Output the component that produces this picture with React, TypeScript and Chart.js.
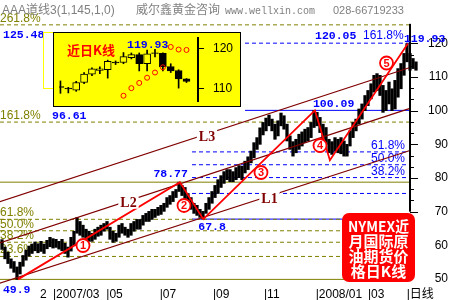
import React, { useEffect, useRef } from "react";
import { Chart, registerables } from "chart.js";

Chart.register(...registerables);

const SANS = '"Liberation Sans", "Noto Sans CJK SC", sans-serif';
const MONO = '"Liberation Mono", "DejaVu Sans Mono", monospace';
const SERIF = '"Liberation Serif", serif';
const CJK = '"Noto Sans CJK SC", "Liberation Sans", sans-serif';

const OLIVE = "#808000";
const BLUE = "#0000FF";
const MAROON = "#800000";
const RED = "#FF0000";
const GREY = "#808080";

// Daily high / low band of NYMEX front-month crude, one entry per sample
const barHigh = [
  61.7, 59.5, 58.0, 56.0, 55.2, 53.6, 55.0, 57.0, 58.6, 59.8,
  60.4, 61.0, 60.5, 61.2, 60.4, 61.5, 62.4, 62.0, 61.8, 61.2,
  61.8, 60.6, 59.5, 62.4, 64.2, 68.3, 67.1, 66.0, 64.8, 64.2,
  63.6, 64.8, 65.4, 66.0, 66.5, 67.1, 65.4, 64.2, 63.6, 66.0,
  66.5, 65.4, 64.8, 66.5, 67.1, 67.7, 67.7, 68.9, 69.5, 70.1,
  70.7, 70.7, 71.3, 71.9, 72.5, 74.2, 74.8, 76.0, 76.6, 78.77,
  77.8, 77.2, 75.4, 74.2, 72.5, 71.9, 70.7, 70.1, 72.5, 74.2,
  76.0, 77.8, 79.5, 80.7, 81.9, 82.5, 82.5, 81.9, 83.1, 83.7,
  83.5, 85.0, 86.3, 88.0, 90.5, 92.0, 94.9, 96.5, 97.8, 98.7,
  97.5, 96.0, 97.0, 99.3, 98.5, 96.0, 92.5, 90.8, 91.5, 93.0,
  93.7, 94.5, 95.0, 96.5, 100.09, 99.5, 98.0, 96.0, 95.0, 91.5,
  90.8, 92.0, 91.5, 92.0, 91.0, 90.0, 94.0, 96.5, 97.5, 100.5,
  102.0, 104.5, 106.0, 108.0, 110.5, 111.0, 110.5, 107.5, 106.0, 108.5,
  106.5, 109.0, 112.5, 114.0, 117.0, 119.93, 117.0, 115.5, 114.5,
];
const barLow = [
  58.8, 56.0, 54.6, 53.2, 52.0, 49.9, 51.5, 53.8, 55.6, 56.8,
  57.6, 58.4, 57.8, 58.2, 57.6, 59.0, 59.6, 59.2, 59.4, 58.9,
  58.4, 57.6, 56.5, 58.3, 60.0, 63.6, 63.0, 62.4, 61.8, 61.2,
  61.2, 61.8, 62.7, 63.0, 64.2, 64.8, 61.8, 60.9, 61.2, 62.4,
  63.6, 63.0, 62.4, 63.0, 64.2, 64.8, 64.8, 66.0, 67.1, 67.1,
  67.7, 68.3, 68.9, 69.2, 70.1, 71.3, 72.2, 73.0, 74.2, 76.0,
  74.8, 73.6, 71.9, 70.7, 69.5, 68.9, 68.3, 67.8, 69.5, 70.7,
  72.5, 74.2, 75.4, 77.2, 78.4, 79.5, 78.9, 78.9, 79.5, 80.1,
  79.5, 81.5, 82.5, 84.5, 86.0, 88.5, 90.0, 92.8, 94.0, 95.5,
  94.0, 91.5, 92.5, 95.5, 94.5, 91.0, 88.5, 86.5, 87.5, 88.5,
  89.5, 90.5, 91.0, 92.0, 95.0, 95.5, 93.5, 91.5, 90.0, 87.5,
  87.0, 88.0, 87.5, 87.2, 86.5, 86.5, 89.5, 92.0, 94.0, 96.0,
  97.5, 100.0, 101.5, 103.5, 105.5, 106.0, 104.5, 99.5, 100.0, 102.0,
  100.0, 100.5, 104.0, 106.5, 110.5, 114.5, 112.0, 112.5, 112.0,
];

// Wave turning points (sample index, price)
const waveX = [5.3, 59.3, 67.1, 104.3, 109.3, 135.3];
const waveY = [49.9, 78.77, 67.8, 100.09, 85.3, 119.93];

// Wave number badges
const badgeText = ["1", "2", "3", "4", "5"];
const badgeX = [27, 60.67, 86.33, 106, 128.17];
const badgeY = [59.96, 71.84, 81.64, 89.66, 114.15];

// Fibonacci grids: A on the first leg, B on the third leg
const fibARatios = [0, 0.236, 0.382, 0.5, 0.618, 1, 1.618, 2.618];
const fibALabelled = [0.236, 0.382, 0.5, 0.618, 1.618, 2.618];
const fibBRatios = [0, 0.236, 0.382, 0.5, 0.618, 1, 1.618];
const fibBLabelled = [0.382, 0.5, 0.618];

// Parallel trend channel
const channelNames = ["L1", "L2", "L3"];
const channelX = [-1, 136];
const channelStart = [48.71, 60.62, 72.88];
const channelEnd = [88.17, 100.67, 112.81];
const channelLabelAt = [89.17, 42.17, 68.33];

// Axis ticks
const monthTickX = [12.67, 17, 34.77, 52.57, 70.33, 87.33, 104.57, 122, 134.9];
const monthTickLabel = ["2", "|2007/03", "|05", "|07", "|09", "|11", "|2008/01", "|03", "|日线"];
const priceTicks = [50, 60, 70, 80, 90, 100, 110, 120];

// Recent daily candles for the inset
const kOpen = [110.6, 110.2, 109.7, 111.6, 113.7, 114.6, 114.8, 116.7, 116.6, 117.8, 118.6, 116.3, 119.0, 118.9, 115.6, 114.6, 112.5];
const kClose = [110.4, 110.0, 111.6, 113.7, 115.0, 115.0, 116.9, 116.5, 118.1, 118.6, 116.3, 118.8, 118.9, 115.5, 114.5, 112.5, 111.9];
const kHigh = [112.0, 110.4, 111.9, 114.1, 115.3, 115.5, 117.2, 117.0, 119.1, 119.0, 119.0, 119.7, 119.93, 119.0, 116.3, 114.8, 112.6];
const kLow = [108.9, 109.0, 109.4, 111.3, 113.3, 113.8, 112.7, 116.1, 116.3, 117.5, 114.5, 114.5, 118.0, 114.5, 114.1, 110.2, 111.6];
const sarX = [8, 9, 10, 11, 12, 13, 14, 15, 16];
const sarY = [108.3, 110.2, 111.5, 112.8, 114.1, 115.4, 120.5, 119.85, 119.75];
const insetTicks = [110, 120];

const X_MIN = -0.667;
const X_MAX = 138.667;
const AXIS_AT = 136;
const FIB_B_START = 63.33;
const FIB_B_UPPER_START = 81;
const Y_MIN = 47.64;
const Y_MAX = 127.22;

const fibA = (r: number) => waveY[0] + r * (waveY[1] - waveY[0]);
const fibB = (r: number) => waveY[2] + r * (waveY[3] - waveY[2]);
const pct = (r: number) => (r * 100).toFixed(1) + "%";

function hline(v: number, a: number, b: number, color: string, solid: boolean) {
  return {
    type: "line",
    data: [{ x: a, y: v }, { x: b, y: v }],
    borderColor: color,
    borderWidth: 1,
    borderDash: solid ? [] : [4, 3],
    pointRadius: 0,
    fill: false,
    order: 10,
  };
}

const mainOverlay = {
  id: "mainOverlay",
  beforeDatasetsDraw(chart: any) {
    const { ctx, chartArea } = chart;
    const xs = chart.scales.x;
    const ys = chart.scales.y;
    ctx.save();
    ctx.font = `12px ${SANS}`;
    ctx.textBaseline = "alphabetic";
    ctx.fillStyle = OLIVE;
    ctx.textAlign = "left";
    for (const r of fibALabelled) {
      ctx.fillText(pct(r), chartArea.left, ys.getPixelForValue(fibA(r)) - 3);
    }
    ctx.fillStyle = BLUE;
    ctx.textAlign = "right";
    const ax = xs.getPixelForValue(AXIS_AT);
    for (const r of fibBLabelled) {
      ctx.fillText(pct(r), ax - 5, ys.getPixelForValue(fibB(r)) - 3);
    }
    ctx.restore();
  },
  afterDatasetsDraw(chart: any) {
    const { ctx, chartArea } = chart;
    const xs = chart.scales.x;
    const ys = chart.scales.y;
    const ax = xs.getPixelForValue(AXIS_AT);
    ctx.save();

    // price axis line with ticks
    ctx.strokeStyle = "#000";
    ctx.lineWidth = 2;
    ctx.beginPath();
    ctx.moveTo(ax, ys.getPixelForValue(fibA(2.618)) - 1);
    ctx.lineTo(ax, ys.getPixelForValue(70));
    ctx.stroke();
    ctx.lineWidth = 1;
    ctx.beginPath();
    for (const t of priceTicks) {
      if (t < 70) continue;
      const py = Math.round(ys.getPixelForValue(t)) + 0.5;
      ctx.moveTo(ax, py);
      ctx.lineTo(ax + 8, py);
      if (t < 120) {
        for (const f of [1 / 3, 2 / 3]) {
          const pm = Math.round(ys.getPixelForValue(t + f * 10)) + 0.5;
          ctx.moveTo(ax, pm);
          ctx.lineTo(ax + 4, pm);
        }
      }
    }
    ctx.stroke();

    // channel names on the lines
    ctx.font = `bold 14px ${SERIF}`;
    ctx.textAlign = "center";
    ctx.textBaseline = "middle";
    channelNames.forEach((name, k) => {
      const xi = channelLabelAt[k];
      const v = channelStart[k] + ((channelEnd[k] - channelStart[k]) * (xi - channelX[0])) / (channelX[1] - channelX[0]);
      const px = xs.getPixelForValue(xi);
      const py = ys.getPixelForValue(v) + 2;
      const w = ctx.measureText(name).width + 4;
      ctx.fillStyle = "#fff";
      ctx.fillRect(px - w / 2, py - 6, w, 12);
      ctx.fillStyle = MAROON;
      ctx.fillText(name, px, py + 1);
    });

    // value labels
    ctx.textBaseline = "alphabetic";
    ctx.font = `bold 11.5px ${MONO}`;
    ctx.fillStyle = BLUE;
    const lvl2618 = fibA(2.618);
    const lvl1618 = fibA(1.618);
    ctx.textAlign = "left";
    ctx.fillText(lvl2618.toFixed(2), chartArea.left + 3, ys.getPixelForValue(lvl2618) + 13);
    ctx.fillText(lvl1618.toFixed(2), chartArea.left + 52, ys.getPixelForValue(lvl1618) - 3.5);
    const wp = (k: number) => [xs.getPixelForValue(waveX[k]), ys.getPixelForValue(waveY[k])];
    let [px, py] = wp(0);
    ctx.fillText(String(waveY[0]), px - 15, py + 13.5);
    [px, py] = wp(2);
    ctx.fillText(String(waveY[2]), px - 5, py + 11);
    [px, py] = wp(3);
    ctx.fillText(String(waveY[3]), px - 2, py - 3.4);
    [px, py] = wp(5);
    ctx.fillText(String(waveY[5]), px - 4, py - 2);
    [px, py] = wp(1);
    ctx.textAlign = "right";
    ctx.fillText(String(waveY[1]), px + 8, py - 5);

    const ext = fibB(1.618);
    const ex = xs.getPixelForValue(FIB_B_UPPER_START) + 70;
    const ey = ys.getPixelForValue(ext) - 4.5;
    ctx.textAlign = "left";
    ctx.fillText(ext.toFixed(2), ex, ey);
    ctx.font = `12px ${SANS}`;
    ctx.fillText(pct(1.618), ex + 48, ey);

    // wave badges
    badgeText.forEach((t, k) => {
      const bx = xs.getPixelForValue(badgeX[k]);
      const by = ys.getPixelForValue(badgeY[k]);
      ctx.beginPath();
      ctx.arc(bx, by, 6.5, 0, Math.PI * 2);
      ctx.fillStyle = "#fff";
      ctx.fill();
      ctx.lineWidth = 1.8;
      ctx.strokeStyle = RED;
      ctx.stroke();
      ctx.fillStyle = RED;
      ctx.font = `bold 11px ${SANS}`;
      ctx.textAlign = "center";
      ctx.textBaseline = "middle";
      ctx.fillText(t, bx, by + 0.5);
    });
    ctx.restore();
  },
  afterDraw(chart: any) {
    const { ctx } = chart;
    ctx.save();
    ctx.fillStyle = GREY;
    ctx.textAlign = "left";
    ctx.textBaseline = "alphabetic";
    ctx.font = `12px ${SANS}`;
    ctx.fillText("AAA道线3(1,145,1,0)", 2, 14);
    ctx.font = `12px ${CJK}`;
    ctx.fillText("威尔鑫黄金咨询", 136, 14);
    ctx.font = `10px ${MONO}`;
    ctx.fillText("www.wellxin.com", 225, 14);
    ctx.font = `11px ${SANS}`;
    ctx.fillText("028-66719233", 333, 14);

    // caption box
    ctx.fillStyle = RED;
    ctx.beginPath();
    ctx.roundRect(342, 213, 73, 69, 7);
    ctx.fill();
    ctx.fillStyle = "#fff";
    ctx.font = `bold 15px ${CJK}`;
    ctx.textAlign = "center";
    ctx.textBaseline = "middle";
    ["NYMEX近", "月国际原", "油期货价", "格日K线"].forEach((line, k) => {
      ctx.fillText(line, 378.5, 226 + k * 15, 61);
    });
    ctx.restore();
  },
};

const insetOverlay = {
  id: "insetOverlay",
  afterDatasetsDraw(chart: any) {
    const { ctx, chartArea } = chart;
    const xs = chart.scales.x;
    const ys = chart.scales.y;
    ctx.save();
    ctx.font = `bold 13px ${CJK}`;
    ctx.fillStyle = RED;
    ctx.textAlign = "center";
    ctx.textBaseline = "middle";
    ctx.fillText("近日K线", chartArea.left + 32, chartArea.top + 12.5);
    const hi = Math.max(...kHigh);
    const hiIdx = kHigh.indexOf(hi);
    ctx.font = `bold 11.5px ${MONO}`;
    ctx.fillStyle = BLUE;
    ctx.textAlign = "left";
    ctx.textBaseline = "alphabetic";
    ctx.fillText(String(hi), xs.getPixelForValue(hiIdx) - 28, ys.getPixelForValue(hi) - 1.3);
    ctx.restore();
  },
};

function buildMain(): any {
  const datasets: any[] = [];
  datasets.push({
    type: "bar",
    data: barHigh.map((h, i) => ({ x: i, y: [barLow[i], h] })),
    backgroundColor: "#000",
    borderWidth: 0,
    barThickness: 2.6,
    order: 5,
  });
  datasets.push({
    type: "line",
    data: waveX.map((x, i) => ({ x, y: waveY[i] })),
    borderColor: RED,
    borderWidth: 1.8,
    pointRadius: 0,
    fill: false,
    order: 1,
  });
  channelNames.forEach((_, k) => {
    datasets.push({
      type: "line",
      data: [
        { x: channelX[0], y: channelStart[k] },
        { x: channelX[1], y: channelEnd[k] },
      ],
      borderColor: MAROON,
      borderWidth: 1.2,
      pointRadius: 0,
      fill: false,
      order: 3,
    });
  });
  fibARatios.forEach((r) => datasets.push(hline(fibA(r), X_MIN, AXIS_AT, OLIVE, r === 0 || r === 1)));
  fibBRatios.forEach((r) =>
    datasets.push(hline(fibB(r), r >= 1 ? FIB_B_UPPER_START : FIB_B_START, AXIS_AT, BLUE, r === 0 || r === 1))
  );

  return {
    type: "bar",
    data: { datasets },
    options: {
      responsive: false,
      animation: false,
      devicePixelRatio: 1,
      events: [],
      layout: { padding: { top: 19, right: 2, left: 0, bottom: 0 } },
      plugins: { legend: { display: false }, tooltip: { enabled: false } },
      scales: {
        x: {
          type: "linear",
          min: X_MIN,
          max: X_MAX,
          offset: false,
          grid: { display: false, drawTicks: false, tickLength: 0 },
          border: { display: false },
          ticks: {
            align: "start",
            padding: 0,
            autoSkip: false,
            maxRotation: 0,
            color: "#000",
            font: { family: SANS, size: 12 },
            callback: (_v: any, i: number) => monthTickLabel[i] ?? "",
          },
          afterBuildTicks: (s: any) => {
            s.ticks = monthTickX.map((v) => ({ value: v }));
          },
          afterFit: (s: any) => {
            s.height = 13;
            s.paddingLeft = 0;
            s.paddingRight = 0;
          },
        },
        y: {
          type: "linear",
          position: "right",
          min: Y_MIN,
          max: Y_MAX,
          grid: { display: false, drawTicks: false, tickLength: 0 },
          border: { display: false },
          ticks: { crossAlign: "far", padding: 10, color: "#000", font: { family: SANS, size: 12 } },
          afterBuildTicks: (s: any) => {
            s.ticks = priceTicks.map((v) => ({ value: v }));
          },
          afterFit: (s: any) => {
            s.width = 30;
            s.paddingTop = 0;
            s.paddingBottom = 0;
          },
        },
      },
    },
    plugins: [mainOverlay],
  };
}

function buildInset(): any {
  const up = (i: number) => kClose[i] > kOpen[i];
  return {
    type: "bar",
    data: {
      datasets: [
        {
          type: "line",
          data: sarX.map((x, i) => ({ x, y: sarY[i] })),
          showLine: false,
          pointRadius: 2.5,
          pointBorderWidth: 1,
          pointBorderColor: RED,
          pointBackgroundColor: "rgba(0,0,0,0)",
          order: 0,
        },
        {
          type: "bar",
          data: kOpen.map((o, i) => ({ x: i, y: [o, kClose[i]] })),
          backgroundColor: (c: any) => (up(c.dataIndex) ? "#FFFF00" : "#000"),
          borderColor: "#000",
          borderWidth: 1,
          borderSkipped: false,
          barThickness: 7,
          grouped: false,
          order: 1,
        },
        {
          type: "bar",
          data: kLow.map((l, i) => ({ x: i, y: [l, kHigh[i]] })),
          backgroundColor: "#000",
          borderWidth: 0,
          barThickness: 1,
          grouped: false,
          order: 2,
        },
      ],
    },
    options: {
      responsive: false,
      animation: false,
      devicePixelRatio: 1,
      events: [],
      layout: { padding: 0 },
      plugins: { legend: { display: false }, tooltip: { enabled: false } },
      scales: {
        x: { type: "linear", display: false, min: -0.184, max: 17.46, offset: false },
        y: {
          type: "linear",
          position: "right",
          min: 106.98,
          max: 122.74,
          grid: { display: true, drawOnChartArea: false, drawTicks: true, tickLength: 6, color: "#000" },
          border: { display: true, color: "#000", width: 2 },
          ticks: { crossAlign: "near", padding: 9, color: "#000", font: { family: SANS, size: 12 } },
          afterBuildTicks: (s: any) => {
            s.ticks = insetTicks.map((v) => ({ value: v }));
          },
          afterFit: (s: any) => {
            s.width = 42;
            s.paddingTop = 0;
            s.paddingBottom = 0;
          },
        },
      },
    },
    plugins: [insetOverlay],
  };
}

export default function App() {
  const mainRef = useRef<HTMLCanvasElement>(null);
  const insetRef = useRef<HTMLCanvasElement>(null);

  useEffect(() => {
    const main = new Chart(mainRef.current as HTMLCanvasElement, buildMain());
    const inset = new Chart(insetRef.current as HTMLCanvasElement, buildInset());
    return () => {
      main.destroy();
      inset.destroy();
    };
  }, []);

  return (
    <div style={{ position: "fixed", left: 0, top: 0, width: 450, height: 300, background: "#fff", overflow: "hidden" }}>
      <canvas ref={mainRef} width={450} height={300} style={{ position: "absolute", left: 0, top: 0, width: 450, height: 300 }} />
      <div
        style={{
          position: "absolute",
          left: 43,
          top: 32,
          width: 11,
          height: 57,
          border: "1px solid #FFFF00",
          boxSizing: "border-box",
        }}
      />
      <div
        style={{
          position: "absolute",
          left: 53,
          top: 32,
          width: 188,
          height: 75,
          background: "#FFFF00",
          border: "1px solid #000",
          boxSizing: "border-box",
        }}
      >
        <canvas ref={insetRef} width={186} height={73} style={{ display: "block", width: 186, height: 73 }} />
      </div>
    </div>
  );
}
